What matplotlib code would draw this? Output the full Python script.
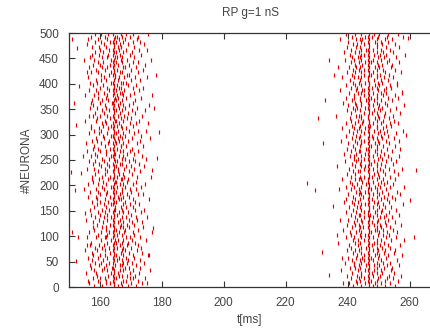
import numpy as np
import matplotlib
matplotlib.use("Agg")
import matplotlib.pyplot as plt

plt.rcParams['font.family'] = ['Liberation Sans', 'DejaVu Sans']

title = "RP g=1 nS"
xlabel = "t[ms]"
ylabel = "#NEURONA"
xticks = [160, 180, 200, 220, 240, 260]
yticks = [0, 50, 100, 150, 200, 250, 300, 350, 400, 450, 500]

# neuron groups (5 neurons per row), lower neuron id of each group
row_ids = list(range(0, 500, 5))

# spike times (ms) of the first burst, one list per neuron group
burst1 = [
 [158.2,160.7,164.5,165.9,167.3,169.1,171.8],[156.4,161.9,163.2,164.6,166.8,170.2,173.5,175.1],
 [159.5,162.1,164.3,167.4,168.6,172.4],[157.8,160.2,161.8,164.7,165.4,169.7,170.9,174.6],
 [162.6,164.4,166.1,167.2,168.9,171.3,159.1],[155.7,158.9,163.5,164.5,165.8,169.9,172.7],
 [160.9,162.2,164.6,167.5,170.6,158.3,176.1,166.4],[157.1,161.4,163.9,164.3,168.2,169.4,173.1],
 [159.8,162.0,164.8,166.5,167.1,171.6,156.8],[158.6,160.5,163.0,164.4,167.6,168.7,170.4,174.2],
 [161.1,164.6,165.6,167.3,169.2,172.9,157.4],[156.1,159.3,162.4,164.2,166.2,168.4,171.1],
 [160.1,161.7,164.5,165.1,167.4,170.8,175.6,158.0],[157.6,163.3,164.7,166.9,169.6,173.8],
 [159.0,161.8,164.4,167.2,168.1,171.9,155.3],[158.4,160.8,162.9,164.6,165.7,167.6,170.0,173.3],
 [161.5,164.3,166.6,168.8,172.2,156.9,159.7],[157.3,162.3,164.5,165.3,167.1,169.0,171.4],
 [160.4,163.6,164.8,166.0,167.5,170.5,174.9],[158.8,161.6,164.4,168.5,169.8,173.0,155.9,162.1],
 [159.4,162.5,164.6,165.5,167.3,171.2],[156.6,160.3,163.1,164.2,166.3,167.8,170.7,176.8],
 [158.1,161.9,164.7,165.2,168.3,172.5],[160.6,162.0,164.5,166.7,167.4,169.3,157.7,174.0],
 [159.2,163.4,164.3,167.0,168.9,171.0],[157.9,161.2,164.6,165.9,167.6,170.3,173.6],
 [155.5,159.9,162.2,164.4,166.4,169.5,172.0],[158.5,161.5,163.8,164.7,167.2,168.6,171.7,175.3],
 [160.0,162.4,164.5,165.6,170.1,157.2],[159.6,161.7,164.2,166.1,167.5,169.1,173.2],
 [156.8,160.6,163.0,164.6,165.0,167.3,171.5,174.4],[158.3,162.1,164.8,166.8,168.4,170.6],
 [161.3,163.7,164.4,167.4,169.7,172.8,159.0],[157.5,160.0,162.6,164.5,165.4,168.1,171.3],
 [159.1,161.8,164.3,166.3,167.0,170.9,175.8],[158.7,163.2,164.6,165.8,167.6,169.4,156.3],
 [160.2,161.9,164.7,166.6,168.7,172.3,173.9],[157.0,159.6,162.3,164.4,165.2,167.1,170.2],
 [158.9,161.4,164.5,167.3,169.9,171.6,155.0],[160.8,163.5,164.2,165.7,168.2,173.4],
 [156.2,159.4,162.0,164.6,166.5,167.5,170.7,174.7],[158.0,161.1,164.8,165.1,168.8,171.8],
 [159.7,162.7,164.3,166.9,167.2,169.2,157.5],[157.4,160.9,163.4,164.5,165.5,168.0,172.1,176.4],
 [161.6,164.7,166.2,167.4,170.4,158.6],[159.3,162.2,164.4,165.9,169.6,173.1],
 [155.8,158.2,161.6,164.6,166.0,167.7,171.0],[160.3,163.1,164.5,165.3,168.5,170.0,174.3],
 [157.7,159.8,162.4,164.2,166.7,167.3,172.6],[158.6,161.3,164.8,165.6,169.3,171.4,156.5],
 [160.7,162.9,164.6,167.1,168.3,170.8,175.0],[157.2,159.2,163.7,164.3,166.1,167.6,173.7],
 [158.4,161.9,164.5,165.0,168.9,171.2],[156.0,160.1,162.1,164.7,166.4,167.4,169.8,172.4],
 [159.5,163.3,164.4,165.7,170.3,157.9],[158.1,161.7,164.6,166.8,167.0,168.6,174.1],
 [160.5,162.6,164.2,165.4,167.5,171.9,155.6],[157.6,159.0,163.0,164.8,166.2,169.0,172.9],
 [158.8,161.5,164.5,165.8,167.2,170.5,176.2],[161.2,163.8,164.3,166.6,168.1,173.3],
 [156.7,159.7,162.3,164.6,165.2,167.6,171.1],[158.2,160.4,164.7,166.0,169.4,172.2,174.8],
 [159.9,162.8,164.4,167.3,168.4,157.1],[157.3,161.0,163.6,164.5,165.6,167.0,170.6],
 [160.6,162.0,164.2,166.3,169.7,171.7,175.5],[155.2,158.7,161.8,164.8,165.1,167.4,172.6],
 [159.2,163.4,164.6,166.9,168.8,170.1],[157.8,160.2,162.5,164.3,165.9,167.7,173.5,156.4],
 [158.5,161.3,164.5,166.4,169.2,171.3],[160.9,163.0,164.7,165.3,167.1,170.4,174.5],
 [156.9,159.1,162.1,164.4,166.1,168.2,172.0],[158.0,161.6,164.6,165.8,167.5,169.5,175.9],
 [160.0,163.9,164.3,166.7,170.9,157.3],[157.5,160.7,162.7,164.5,165.4,167.2,171.5],
 [159.6,161.9,164.8,166.0,168.6,173.2],[158.3,162.4,164.2,165.7,167.6,169.9,155.4,176.9],
 [161.4,164.6,166.5,167.3,171.0,159.3],[156.5,158.8,163.1,164.4,165.2,168.0,172.8],
 [160.2,162.2,164.7,166.2,167.0,170.7,174.0],[157.9,161.1,164.5,165.5,169.1,171.8],
 [159.0,163.6,164.3,166.8,167.4,168.5,157.0],[158.7,160.5,162.0,164.6,165.9,170.2,173.0],
 [156.3,161.4,164.8,166.3,167.7,171.4,175.2],[160.4,162.9,164.2,165.0,168.7,169.6],
 [157.1,159.5,163.5,164.5,166.6,167.2,172.3,155.8],[158.9,161.8,164.7,165.6,170.0,173.9],
 [160.8,162.3,164.4,167.5,168.2,171.6,156.6],[157.7,160.0,163.2,164.6,166.0,169.3,174.6],
 [159.3,161.2,164.3,165.3,167.1,170.8,172.5],[158.1,163.7,164.5,166.9,168.9,176.5],
 [156.8,160.6,162.4,164.8,165.7,167.3,171.2],[159.8,162.7,164.2,166.4,169.8,173.4,157.6],
 [158.4,161.0,164.6,165.1,167.6,170.3],[160.1,163.1,164.4,166.1,168.4,172.7,175.4],
 [157.4,159.9,162.1,164.7,165.8,167.0,171.0],[155.9,161.5,164.5,166.6,169.0,174.2],
 [158.6,160.3,163.4,164.3,165.2,167.4,170.6,173.1],[159.4,162.5,164.6,166.3,168.1,171.9,156.2],
 [157.2,161.7,164.8,165.5,167.2,169.7,172.2],[160.3,162.8,164.2,166.8,168.6,170.9,158.4,175.7],
]

# spike times (ms) of the second burst, one list per neuron group
burst2 = [
 [241.8,244.3,246.8,248.2,249.6,252.1,255.4],[240.3,243.1,245.5,246.9,248.9,250.8,253.7,238.6],
 [242.6,244.1,246.7,247.6,249.5,251.9,256.3],[241.0,243.8,245.2,246.8,249.7,252.6,254.5],
 [239.7,242.9,244.4,246.6,248.1,250.3,253.2,257.1],[241.5,244.2,246.9,247.8,249.4,251.2,255.0],
 [243.3,245.7,246.7,248.6,250.9,253.9,237.8],[240.6,242.4,244.0,246.8,249.6,251.6,254.2],
 [241.9,243.6,245.9,247.0,248.4,250.1,252.8,256.7],[239.2,242.1,244.3,246.7,249.5,251.4,253.5],
 [241.3,244.1,245.4,246.9,248.0,250.6,255.8],[240.0,242.8,244.5,246.6,247.4,249.7,252.4,238.1],
 [243.0,245.1,246.8,248.7,250.2,253.0,257.6],[241.6,244.2,246.7,249.4,251.8,254.8],
 [239.9,242.3,243.7,246.9,248.3,249.8,252.0,255.3],[241.2,244.4,245.8,246.8,249.6,251.1,253.6],
 [240.4,243.4,246.6,247.7,250.4,252.9,256.9],[242.5,244.0,246.9,248.5,249.5,251.7,236.9],
 [241.7,243.2,245.3,246.7,249.3,250.7,254.1,258.3],[239.5,242.0,244.3,246.8,248.1,252.3,255.5],
 [241.1,243.9,245.6,246.6,249.7,251.5,253.3],[240.7,242.7,244.2,246.9,247.5,250.0,252.7,256.0],
 [243.5,246.8,248.8,249.4,251.3,254.6,238.4],[241.4,244.1,245.0,246.7,249.6,250.9,253.8],
 [239.8,242.2,243.5,246.8,248.4,250.5,252.2,257.3],[241.9,244.5,246.6,247.9,249.5,251.9,255.1],
 [240.2,243.0,244.3,246.9,249.8,253.1,237.5],[242.3,245.4,246.8,248.2,250.3,251.6,254.4],
 [241.0,243.7,244.0,246.7,247.3,249.4,252.5,256.5],[239.4,242.6,245.2,246.6,248.7,250.8,253.4],
 [241.6,244.2,246.9,249.6,251.0,255.7],[240.5,242.9,243.9,246.8,248.0,250.2,252.0,254.0],
 [242.1,244.4,245.7,246.7,249.3,251.4,257.9],[241.3,243.3,246.8,248.5,249.7,253.3,238.9],
 [239.6,242.4,244.1,246.6,247.7,250.6,252.8,255.2],[241.8,245.0,246.9,249.5,251.7,254.3],
 [240.1,243.5,244.3,246.8,248.3,250.0,253.0,256.8],[242.7,244.0,245.5,246.7,249.6,251.2,255.9],
 [241.2,243.8,246.6,247.5,249.4,252.3,237.2],[239.3,242.0,244.2,246.9,248.8,250.4,253.7,258.0],
 [241.5,243.1,245.9,246.8,249.7,251.8,254.7],[240.8,244.5,246.7,248.1,250.8,252.6],
 [242.4,243.6,244.3,246.6,249.5,251.3,255.4,238.3],[241.1,244.1,245.3,246.9,247.9,250.1,253.5],
 [239.7,242.5,246.8,248.6,249.8,252.1,256.2],[241.7,243.2,244.0,246.7,249.3,251.5,254.9],
 [240.3,245.1,246.8,248.2,250.5,253.2,257.4],[242.2,244.4,245.6,246.6,249.6,251.9,236.6],
 [241.4,243.9,246.9,247.4,249.4,250.7,254.5],[239.1,242.8,244.2,246.8,248.4,252.4,255.6],
 [241.9,243.4,245.2,246.7,249.7,251.1,253.9],[240.6,242.1,244.3,246.9,248.0,250.3,252.9,256.4],
 [242.8,245.5,246.6,249.5,251.6,238.7],[241.0,243.7,244.1,246.8,248.7,250.9,254.2],
 [239.9,242.3,245.8,246.7,249.3,252.7,257.0],[241.6,244.0,246.8,247.6,249.6,251.4,255.3],
 [240.2,243.0,244.4,246.6,248.9,250.0,253.4],[242.5,244.2,245.4,246.9,249.8,252.2,256.6,237.7],
 [241.3,243.5,246.7,248.3,249.4,251.0,254.8],[239.4,242.6,244.0,246.8,247.8,250.6,253.1],
 [241.8,245.3,246.9,249.7,251.8,255.7],[240.4,242.9,244.3,246.6,248.5,250.4,252.6,257.8],
 [242.0,243.8,245.7,246.8,249.5,251.3,238.0],[241.5,244.1,246.7,247.3,249.3,252.4,254.1],
 [239.6,242.2,244.5,246.9,248.1,250.8,253.6,256.1],[241.2,243.3,245.0,246.8,249.6,251.5,255.0],
 [240.9,244.4,246.6,248.8,250.2,253.3],[242.6,243.6,244.2,246.7,249.8,251.7,254.6,236.3],
 [241.0,245.2,246.9,247.7,249.4,252.0,256.9],[239.8,242.4,244.0,246.8,248.4,250.5,253.8],
 [241.7,243.1,245.5,246.6,249.7,251.1,255.5],[240.1,242.7,244.4,246.9,248.0,250.1,252.8,258.2],
 [242.3,244.3,246.7,249.5,251.9,238.5],[241.4,243.9,245.8,246.8,248.6,250.7,254.3],
 [239.3,242.0,244.1,246.7,247.5,249.3,253.0,256.3],[241.9,245.1,246.9,249.6,251.4,255.2],
 [240.5,243.4,244.2,246.6,248.2,250.9,252.5,257.5],[242.7,244.5,245.3,246.8,249.8,251.6,237.4],
 [241.1,243.0,246.7,247.9,249.4,252.3,254.0],[239.5,242.5,244.3,246.9,248.9,250.2,253.5,256.0],
 [241.6,243.7,245.6,246.8,249.7,251.2,255.8],[240.7,244.0,246.6,248.4,250.6,252.9],
 [242.1,243.2,244.4,246.7,249.5,251.8,254.7,238.2],[241.3,245.4,246.9,247.6,249.3,250.4,253.2],
 [239.7,242.3,244.2,246.8,248.1,252.1,257.2],[241.8,243.5,245.1,246.6,249.6,251.5,255.4],
 [240.3,242.8,244.1,246.9,248.7,250.0,253.9,236.8],[242.4,244.5,246.7,249.8,251.0,254.4],
 [241.0,243.8,245.7,246.8,247.4,249.4,252.6,256.7],[239.2,242.1,244.3,246.6,248.3,250.8,253.3],
 [241.5,243.3,244.0,246.9,249.7,251.7,255.6],[240.8,244.2,245.3,246.7,248.5,250.3,252.2,258.4],
 [242.2,243.6,246.8,249.5,251.3,254.5,238.8],[241.2,244.4,245.9,246.6,248.0,250.6,253.7],
 [239.9,242.6,244.1,246.8,249.3,252.4,256.4],[241.7,243.0,245.2,246.9,249.6,251.1,255.1],
 [240.0,244.3,246.7,248.9,250.8,253.1],[242.6,243.9,244.5,246.8,249.4,251.9,254.2,237.6],
 [241.4,245.5,246.6,247.7,249.8,252.7,257.7],[239.6,242.4,244.2,246.9,248.4,250.2,253.0,256.1],
]

# isolated spikes outside the bursts
iso1_t = [151.2,152.8,155.0,153.4,151.6,152.3,154.6,150.8,153.9,152.1,155.2,151.0,153.0,156.0,152.5,156.2,
          178.3,177.5,179.0,176.8,178.6,177.2,175.9]
iso1_n = [488,470,446,395,362,318,258,226,224,190,146,108,98,82,52,12,
          418,352,306,230,254,116,63]
iso2_t = [233.9,235.5,232.8,230.3,232.0,227.0,229.4,236.5,234.0,231.8,235.2,259.5,261.3,258.8,260.2,262.0,257.5]
iso2_n = [447,417,368,333,283,205,190,102,24,69,160,490,98,300,172,230,383]

W, H = 430, 333
fig = plt.figure(figsize=(W/100, H/100), dpi=100)
x0, x1 = 68.7, 431.5
ax = fig.add_axes([x0/W, 1-287/H, (x1-x0)/W, 254/H])

red = '#e00000'
kw = dict(linestyle='none', marker='|', ms=2.5, mew=0.85, color=red, mec=red, mfc=red)
for burst in (burst1, burst2):
    ts, ns = [], []
    for rid, times in zip(row_ids, burst):
        ts.extend(times)
        ns.extend([rid + 2.5] * len(times))
    ax.plot(ts, ns, **kw)
ax.plot(iso1_t, iso1_n, **kw)
ax.plot(iso2_t, iso2_n, **kw)

ax.set_xlim(150, 150 + (x1 - x0) / 3.1)
ax.set_ylim(0, 500)
ax.set_xticks(xticks)
ax.set_yticks(yticks)
tc = '#444444'
ax.tick_params(direction='in', length=4, width=0.8, color='#333333',
               labelsize=8.5, labelcolor=tc, top=True, right=False, pad=7)
for s in ax.spines.values():
    s.set_color('#333333')
    s.set_linewidth(0.9)
ax.spines['right'].set_visible(False)

fig.text(250/W, 1-13/H, title, ha='center', va='center', fontsize=8.5, color=tc)
ax.set_xlabel(xlabel, fontsize=8.5, color=tc)
ax.xaxis.set_label_coords((250-x0)/(x1-x0), (287-320)/254)
ax.xaxis.label.set_va('center')
ax.set_ylabel(ylabel, fontsize=8.5, color=tc)
ax.yaxis.set_label_coords((27-x0)/(x1-x0), 0.5)
ax.yaxis.label.set_va('center')

fig.savefig('out.png', dpi=100)
